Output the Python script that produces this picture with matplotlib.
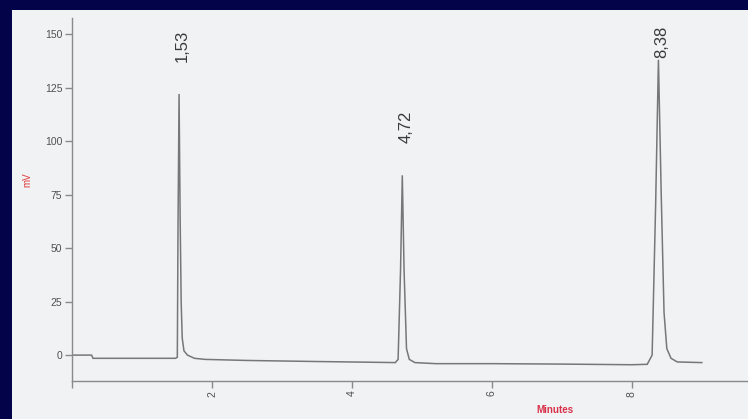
import matplotlib
matplotlib.use("Agg")
import matplotlib.pyplot as plt
from matplotlib.patches import Rectangle

plt.rcParams["font.family"] = ["Liberation Sans", "DejaVu Sans"]

# Detector trace (minutes, mV)
time_min = [0.00, 0.28, 0.30, 1.00, 1.48, 1.505, 1.515, 1.53, 1.545, 1.56,
            1.575, 1.60, 1.65, 1.75, 1.90, 2.50, 3.50, 4.20, 4.62, 4.66,
            4.695, 4.72, 4.745, 4.78, 4.82, 4.90, 5.20, 6.00, 7.00, 8.00,
            8.22, 8.29, 8.34, 8.38, 8.42, 8.46, 8.50, 8.56, 8.65, 9.00]
signal_mv = [0.0, 0.0, -1.5, -1.5, -1.5, -1.0, 60.0, 122.0, 65.0, 25.0,
             8.0, 2.0, 0.0, -1.5, -2.0, -2.5, -3.0, -3.3, -3.5, -2.0,
             40.0, 84.0, 40.0, 3.0, -2.0, -3.5, -4.0, -4.0, -4.2, -4.5,
             -4.3, 0.0, 70.0, 138.0, 75.0, 20.0, 3.0, -1.5, -3.2, -3.5]

# Retention times of the integrated peaks and their apex heights
peak_times = [1.53, 4.72, 8.38]
peak_heights = [122.0, 84.0, 138.0]
peak_labels = ["1,53", "4,72", "8,38"]

y_ticks = [0, 25, 50, 75, 100, 125, 150]
x_ticks = [0, 2, 4, 6, 8]
x_tick_labels = ["", "2", "4", "6", "8"]

W, H = 748, 419
fig = plt.figure(figsize=(W / 100, H / 100), dpi=100)
fig.patch.set_facecolor("#03034a")

# light report panel
fig.add_artist(Rectangle((12 / W, 0), 1 - 12 / W, 1 - 10 / H,
                         transform=fig.transFigure, facecolor="#f1f2f4",
                         edgecolor="none", zorder=0))

ax = fig.add_axes([72 / W, 38 / H, (W - 72) / W, (381 - 18) / H])
ax.set_facecolor("none")
ax.plot(time_min, signal_mv, color="#777777", lw=1.1, solid_joinstyle="miter")

ax.set_xlim(0, 9.66)
ax.set_ylim(-12.1, 157.5)

for s in ["top", "right"]:
    ax.spines[s].set_visible(False)
for s in ["left", "bottom"]:
    ax.spines[s].set_color("#8a8a8a")
    ax.spines[s].set_linewidth(1.0)

ax.set_yticks(y_ticks)
ax.set_yticklabels([str(v) for v in y_ticks])
ax.set_xticks(x_ticks)
ax.set_xticklabels(x_tick_labels, rotation=90)
ax.tick_params(axis="both", colors="#8a8a8a", labelcolor="#505050",
               labelsize=7.5, length=5, width=1.0, pad=2)

for t, h, lab in zip(peak_times, peak_heights, peak_labels):
    ax.text(t + 0.05, min(h + 15, 139), lab, rotation=90, ha="center",
            va="bottom", fontsize=12, color="#3a3a3a")

fig.text(27 / W, 1 - 180 / H, "mV", rotation=90, ha="center", va="center",
         fontsize=7, color="#e03a3a")
fig.text(555 / W, 1 - 410 / H, "Minutes", ha="center", va="center",
         fontsize=7, color="#d8324a", fontweight="bold")

fig.savefig("out.png", dpi=100, facecolor=fig.get_facecolor())
